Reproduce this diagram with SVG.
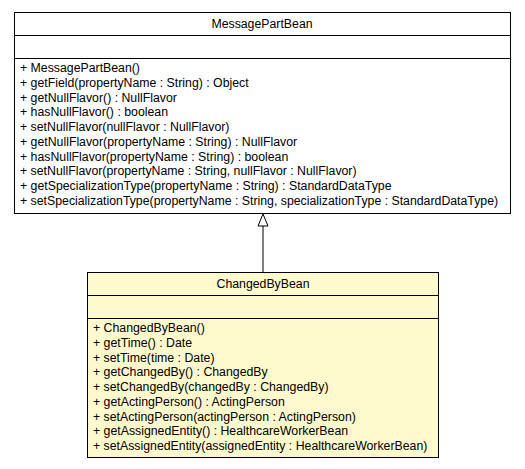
<svg xmlns="http://www.w3.org/2000/svg" width="525" height="469" viewBox="0 0 525 469">
<style>
text{font-family:"Liberation Sans",Arial,sans-serif;font-size:12.3px;fill:#000}
.t{text-anchor:middle}
.box{stroke:#000;stroke-width:1}
.sep{stroke:#000;stroke-width:1.2}
.conn{stroke:#000;stroke-width:1;fill:none}
</style>
<g id="connectors">
<path class="conn" d="M263,272 L263,226"/>
<path d="M263,214 L268,226 L258,226 Z" fill="#fff" stroke="#000" stroke-width="1"/>
</g>
<g id="MessagePartBean">
<rect class="box" x="14.5" y="12.5" width="496" height="201" fill="#fff"/>
<line class="sep" x1="14.5" y1="35.5" x2="510.5" y2="35.5"/>
<line class="sep" x1="14.5" y1="58.5" x2="510.5" y2="58.5"/>
<text class="t" x="262" y="28">MessagePartBean</text>
<text x="20" y="72">+ MessagePartBean()</text>
<text x="20" y="86.75">+ getField(propertyName : String) : Object</text>
<text x="20" y="101.5">+ getNullFlavor() : NullFlavor</text>
<text x="20" y="116.25">+ hasNullFlavor() : boolean</text>
<text x="20" y="131">+ setNullFlavor(nullFlavor : NullFlavor)</text>
<text x="20" y="145.75">+ getNullFlavor(propertyName : String) : NullFlavor</text>
<text x="20" y="160.5">+ hasNullFlavor(propertyName : String) : boolean</text>
<text x="20" y="175.25">+ setNullFlavor(propertyName : String, nullFlavor : NullFlavor)</text>
<text x="20" y="190">+ getSpecializationType(propertyName : String) : StandardDataType</text>
<text x="20" y="204.75">+ setSpecializationType(propertyName : String, specializationType : StandardDataType)</text>
</g>
<g id="ChangedByBean">
<rect class="box" x="87.5" y="272.5" width="351" height="185" fill="#FFFACD"/>
<line class="sep" x1="87.5" y1="295.5" x2="438.5" y2="295.5"/>
<line class="sep" x1="87.5" y1="318.5" x2="438.5" y2="318.5"/>
<text class="t" x="263" y="288">ChangedByBean</text>
<text x="93" y="332">+ ChangedByBean()</text>
<text x="93" y="346.75">+ getTime() : Date</text>
<text x="93" y="361.5">+ setTime(time : Date)</text>
<text x="93" y="376.25">+ getChangedBy() : ChangedBy</text>
<text x="93" y="391">+ setChangedBy(changedBy : ChangedBy)</text>
<text x="93" y="405.75">+ getActingPerson() : ActingPerson</text>
<text x="93" y="420.5">+ setActingPerson(actingPerson : ActingPerson)</text>
<text x="93" y="435.25">+ getAssignedEntity() : HealthcareWorkerBean</text>
<text x="93" y="450">+ setAssignedEntity(assignedEntity : HealthcareWorkerBean)</text>
</g>
</svg>
